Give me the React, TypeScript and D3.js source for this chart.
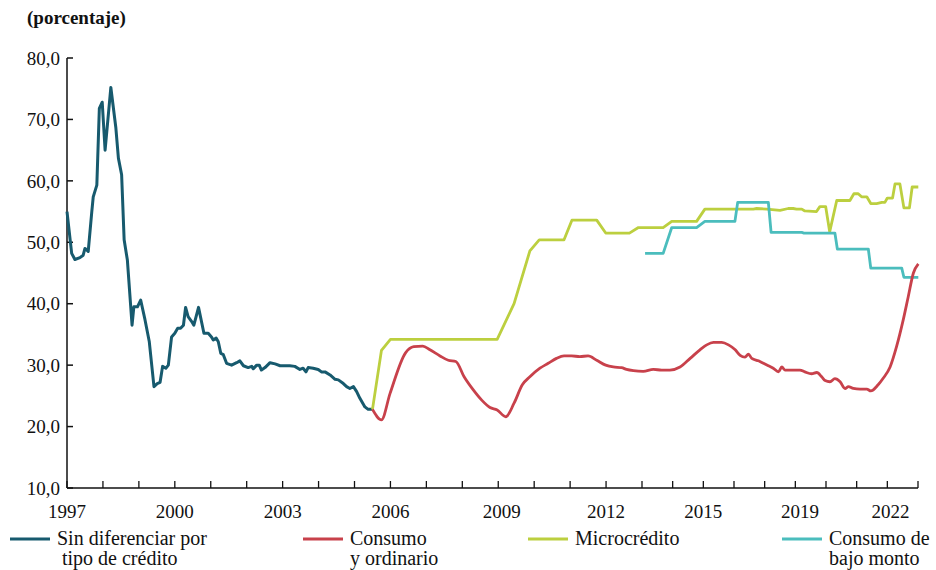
import React from "react";
import * as d3 from "d3";

// ---- Data (t = position on the chart's time axis, in years) ----
const sinDifT = [1997.0,1997.13,1997.22,1997.36,1997.45,1997.5,1997.59,1997.69,1997.73,1997.83,1997.9,1997.98,1998.06,1998.22,1998.36,1998.43,1998.52,1998.59,1998.68,1998.81,1998.86,1998.96,1999.05,1999.17,1999.29,1999.42,1999.51,1999.59,1999.66,1999.75,1999.82,1999.91,2000.0,2000.08,2000.16,2000.24,2000.3,2000.37,2000.47,2000.53,2000.66,2000.81,2000.93,2001.02,2001.07,2001.15,2001.21,2001.28,2001.35,2001.44,2001.58,2001.72,2001.81,2001.91,2002.04,2002.14,2002.18,2002.28,2002.35,2002.41,2002.51,2002.65,2002.79,2002.93,2003.07,2003.2,2003.34,2003.48,2003.57,2003.65,2003.71,2003.85,2003.99,2004.08,2004.18,2004.32,2004.46,2004.55,2004.69,2004.78,2004.87,2004.97,2005.06,2005.15,2005.29,2005.38,2005.5];
const sinDifV = [55.0,48.2,47.2,47.5,47.9,49.0,48.5,55.0,57.4,59.3,71.8,72.8,65.0,75.2,68.6,63.7,61.0,50.4,47.1,36.5,39.5,39.5,40.6,37.4,33.8,26.5,27.0,27.2,29.8,29.5,30.0,34.6,35.2,36.0,36.0,36.5,39.4,37.9,37.1,36.5,39.4,35.2,35.2,34.6,34.1,34.4,33.8,31.9,31.7,30.3,30.0,30.4,30.7,29.9,29.6,29.8,29.4,30.0,30.0,29.2,29.6,30.4,30.2,29.9,29.9,29.9,29.8,29.3,29.5,28.9,29.6,29.5,29.3,28.9,28.9,28.4,27.7,27.6,27.0,26.5,26.2,26.5,25.7,24.6,23.2,22.8,22.8];

const consumoT = [2005.5,2005.75,2005.99,2006.42,2006.65,2006.9,2007.1,2007.38,2007.61,2007.82,2008.05,2008.3,2008.54,2008.77,2008.97,2009.21,2009.44,2009.67,2009.88,2010.16,2010.39,2010.62,2010.83,2011.04,2011.27,2011.5,2011.74,2011.99,2012.2,2012.43,2012.57,2012.76,2013.04,2013.37,2013.64,2013.91,2014.24,2014.57,2014.89,2015.11,2015.33,2015.6,2015.82,2016.04,2016.2,2016.36,2016.47,2016.58,2016.8,2016.96,2017.12,2017.28,2017.45,2017.56,2017.66,2018.15,2018.31,2018.53,2018.7,2018.86,2018.97,2019.13,2019.29,2019.46,2019.62,2019.73,2019.89,2020.11,2020.33,2020.46,2020.7,2020.87,2021.09,2021.3,2021.52,2021.68,2021.85,2022.01];
const consumoV = [22.8,21.1,25.4,32.0,33.0,33.1,32.5,31.5,30.8,30.6,28.1,26.0,24.3,23.1,22.7,21.6,23.8,26.8,28.1,29.5,30.3,31.1,31.5,31.5,31.4,31.5,30.8,30.0,29.7,29.6,29.3,29.1,29.0,29.3,29.2,29.2,29.7,31.1,32.5,33.3,33.7,33.7,33.3,32.5,31.6,31.3,31.8,31.1,30.7,30.3,29.9,29.5,28.9,29.7,29.2,29.2,28.9,28.6,28.8,28.1,27.5,27.3,27.8,27.3,26.2,26.5,26.2,26.1,26.1,25.8,26.8,27.9,29.7,33.0,37.4,41.1,45.0,46.5];

const microT = [2005.5,2005.75,2006.0,2008.97,2009.44,2009.88,2010.14,2010.83,2011.05,2011.74,2011.99,2012.65,2012.9,2013.69,2013.97,2014.78,2015.05,2016.63,2016.74,2017.07,2017.5,2017.77,2017.93,2018.04,2018.21,2018.31,2018.69,2018.8,2018.99,2019.12,2019.35,2019.78,2019.91,2020.05,2020.16,2020.33,2020.46,2020.65,2020.82,2020.92,2021.0,2021.17,2021.25,2021.41,2021.54,2021.72,2021.81,2022.01];
const microV = [22.8,32.4,34.2,34.2,40.0,48.6,50.4,50.4,53.6,53.6,51.5,51.5,52.4,52.4,53.4,53.4,55.4,55.4,55.5,55.4,55.2,55.5,55.5,55.4,55.4,55.1,55.0,55.8,55.8,51.7,56.8,56.8,57.9,57.9,57.4,57.4,56.3,56.3,56.5,56.5,57.2,57.2,59.5,59.5,55.6,55.6,59.0,59.0];

const bajoMontoT = [2013.1,2013.69,2013.97,2014.78,2015.05,2016.03,2016.12,2017.12,2017.21,2018.21,2018.28,2019.29,2019.37,2020.38,2020.46,2021.47,2021.54,2022.01];
const bajoMontoV = [48.2,48.2,52.4,52.4,53.4,53.4,56.5,56.5,51.6,51.6,51.5,51.5,48.9,48.9,45.8,45.8,44.3,44.3];

const seriesNames = [
  ["Sin diferenciar por", "tipo de crédito"],
  ["Consumo", "y ordinario"],
  ["Microcrédito"],
  ["Consumo de", "bajo monto"],
];
const seriesColors = ["#175a6e", "#c8414b", "#bccf3f", "#4bbdbd"];

const yTicks = [10, 20, 30, 40, 50, 60, 70, 80];
const xTickYears = d3.range(1997, 2023);
const xLabelText = ["1997", "2000", "2003", "2006", "2009", "2012", "2015", "2019", "2022"];
const xLabelAt = [1997, 2000, 2003, 2006, 2009.1, 2012, 2015, 2018.15, 2021.1];

const FONT = "'Liberation Serif', 'Times New Roman', serif";

export default function App() {
  const x = d3.scaleLinear().domain([1997, 2013, 2022]).range([67, 642, 918]);
  const y = d3.scaleLinear().domain([10, 80]).range([488, 58]);

  const mk = (ts: number[], vs: number[]) => ts.map((t, i) => [t, vs[i]] as [number, number]);
  const lineLin = d3.line<[number, number]>().x((d) => x(d[0])).y((d) => y(d[1]));
  const lineSmooth = d3
    .line<[number, number]>()
    .x((d) => x(d[0]))
    .y((d) => y(d[1]))
    .curve(d3.curveMonotoneX);

  const series = [
    { d: lineLin(mk(sinDifT, sinDifV)), c: seriesColors[0], w: 3 },
    { d: lineLin(mk(microT, microV)), c: seriesColors[2], w: 2.8 },
    { d: lineLin(mk(bajoMontoT, bajoMontoV)), c: seriesColors[3], w: 2.8 },
    { d: lineSmooth(mk(consumoT, consumoV)), c: seriesColors[1], w: 2.8 },
  ];

  const legendX = [10, 303, 528, 782];
  const legendSecondDx = [5, 0, 0, 0];

  return (
    <svg
      width={936}
      height={570}
      style={{ position: "absolute", left: 0, top: 0, display: "block", background: "#fff" }}
      fontFamily={FONT}
    >
      <text x={27} y={24} fontSize={19} fontWeight="bold" fill="#111">
        (porcentaje)
      </text>

      {/* Y axis */}
      <line x1={x(1997)} x2={x(1997)} y1={y(80)} y2={y(10)} stroke="#111" strokeWidth={1.5} />
      {yTicks.map((v) => (
        <g key={v}>
          <line x1={x(1997)} x2={x(1997) + 6} y1={y(v)} y2={y(v)} stroke="#111" strokeWidth={1.5} />
          <text x={60} y={y(v)} dy="0.35em" textAnchor="end" fontSize={19} fill="#111">
            {d3.format(".1f")(v).replace(".", ",")}
          </text>
        </g>
      ))}

      {/* X axis */}
      <line x1={x(1997)} x2={x(2022)} y1={y(10)} y2={y(10)} stroke="#111" strokeWidth={1.5} />
      {xTickYears.map((t) => (
        <line key={t} x1={x(t)} x2={x(t)} y1={y(10)} y2={y(10) - 7} stroke="#111" strokeWidth={1.3} />
      ))}
      {xLabelText.map((s, i) => (
        <text key={s} x={x(xLabelAt[i])} y={518} textAnchor="middle" fontSize={19} fill="#111">
          {s}
        </text>
      ))}

      {/* Series */}
      {series.map((s, i) => (
        <path key={i} d={s.d || ""} fill="none" stroke={s.c} strokeWidth={s.w} strokeLinejoin="round" />
      ))}

      {/* Legend */}
      {seriesNames.map((lines, i) => (
        <g key={i}>
          <line x1={legendX[i]} x2={legendX[i] + 40} y1={539} y2={539} stroke={seriesColors[i]} strokeWidth={3} />
          {lines.map((ln, j) => (
            <text
              key={j}
              x={legendX[i] + 47 + (j > 0 ? legendSecondDx[i] : 0)}
              y={545 + j * 20}
              fontSize={20}
              fill="#111"
            >
              {ln}
            </text>
          ))}
        </g>
      ))}
    </svg>
  );
}
